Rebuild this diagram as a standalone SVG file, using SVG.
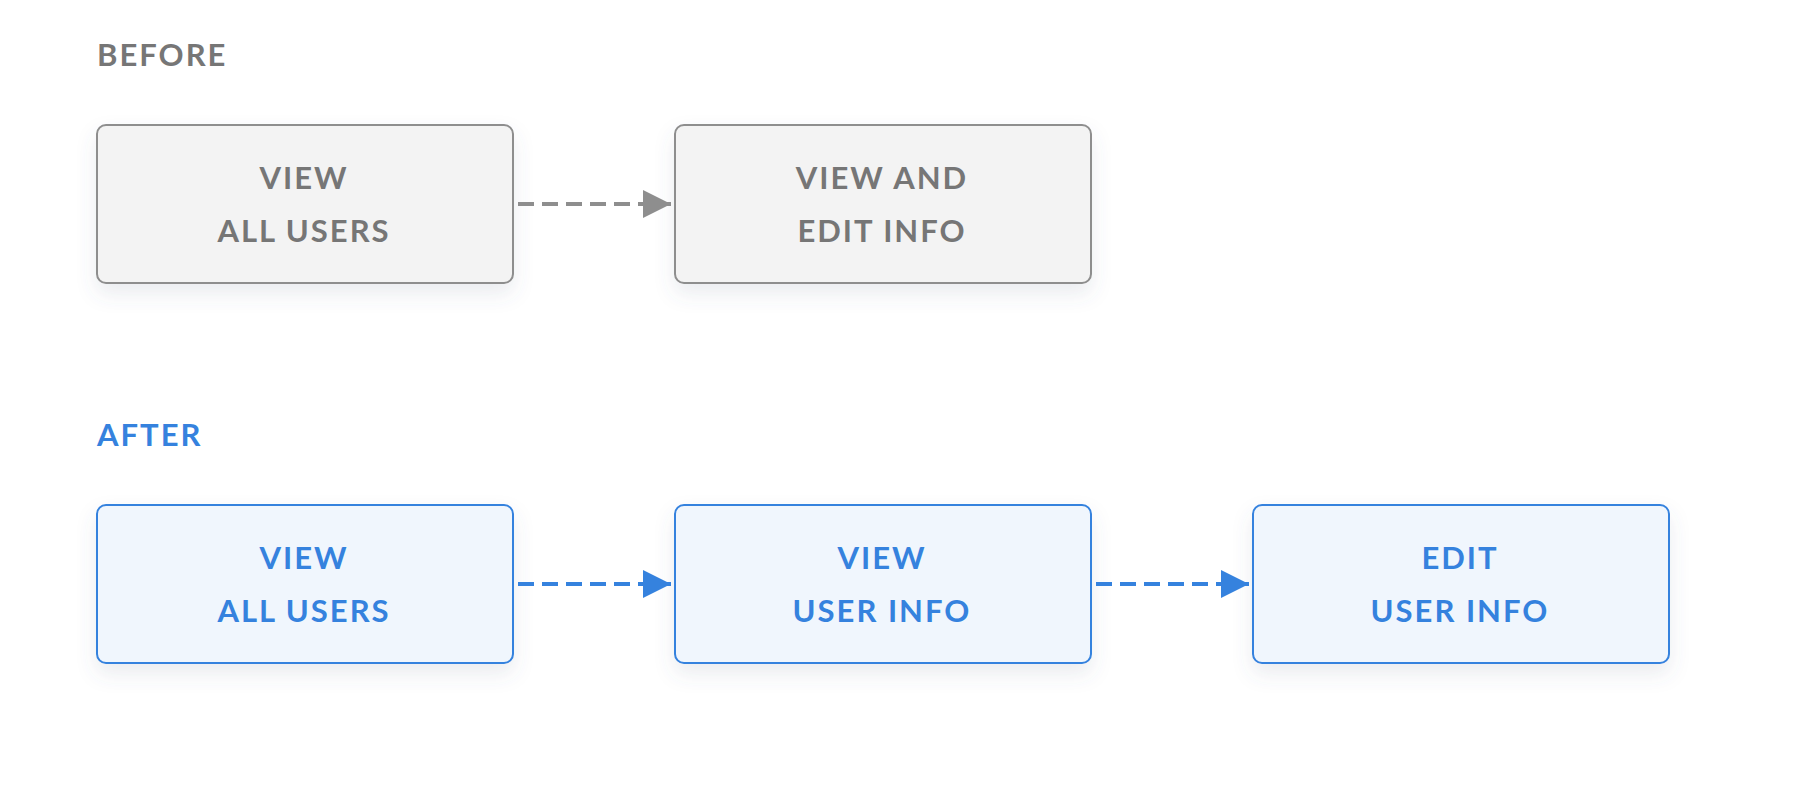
<svg xmlns="http://www.w3.org/2000/svg" width="1798" height="798" viewBox="0 0 1798 798">
  <defs>
    <filter id="shadow" x="-20%" y="-20%" width="140%" height="160%">
      <feDropShadow dx="0" dy="10" stdDeviation="10" flood-color="#5a6a80" flood-opacity="0.12"/>
    </filter>
    <marker id="arrGray" markerWidth="28" markerHeight="28" viewBox="0 0 28 28" refX="28" refY="14" markerUnits="userSpaceOnUse" orient="auto">
      <path d="M0,0 L28,14 L0,28 Z" fill="#8e8e8e"/>
    </marker>
    <marker id="arrBlue" markerWidth="28" markerHeight="28" viewBox="0 0 28 28" refX="28" refY="14" markerUnits="userSpaceOnUse" orient="auto">
      <path d="M0,0 L28,14 L0,28 Z" fill="#3582de"/>
    </marker>
  </defs>
  <style>
    text { font-family: Lato, "Open Sans", sans-serif; font-weight: 700; font-size: 31px; letter-spacing: 2px; }
    .title-gray { fill: #767676; }
    .title-blue { fill: #3582de; }
    .box-gray { fill: #f3f3f3; stroke: #8e8e8e; stroke-width: 2; filter: url(#shadow); }
    .box-blue { fill: #f0f6fd; stroke: #3582de; stroke-width: 2; filter: url(#shadow); }
    .lbl-gray { fill: #767676; text-anchor: middle; }
    .lbl-blue { fill: #3582de; text-anchor: middle; }
    .conn-gray { stroke: #8e8e8e; stroke-width: 4; stroke-dasharray: 16 8; fill: none; }
    .conn-blue { stroke: #3582de; stroke-width: 4; stroke-dasharray: 16 8; fill: none; }
  </style>
  <rect width="1798" height="798" fill="#ffffff"/>

  <text id="title-before" class="title-gray" x="97" y="65.5">BEFORE</text>
  <text id="title-after" class="title-blue" x="97" y="446">AFTER</text>

  <g id="before-view-all-users">
    <rect class="box-gray" x="97" y="125" width="416" height="158" rx="9"/>
    <text class="lbl-gray" x="304" y="189">VIEW</text>
    <text class="lbl-gray" x="304" y="242">ALL USERS</text>
  </g>
  <g id="before-view-edit-info">
    <rect class="box-gray" x="675" y="125" width="416" height="158" rx="9"/>
    <text class="lbl-gray" x="882" y="189">VIEW AND</text>
    <text class="lbl-gray" x="882" y="242">EDIT INFO</text>
  </g>

  <g id="after-view-all-users">
    <rect class="box-blue" x="97" y="505" width="416" height="158" rx="9"/>
    <text class="lbl-blue" x="304" y="569">VIEW</text>
    <text class="lbl-blue" x="304" y="622">ALL USERS</text>
  </g>
  <g id="after-view-user-info">
    <rect class="box-blue" x="675" y="505" width="416" height="158" rx="9"/>
    <text class="lbl-blue" x="882" y="569">VIEW</text>
    <text class="lbl-blue" x="882" y="622">USER INFO</text>
  </g>
  <g id="after-edit-user-info">
    <rect class="box-blue" x="1253" y="505" width="416" height="158" rx="9"/>
    <text class="lbl-blue" x="1460" y="569">EDIT</text>
    <text class="lbl-blue" x="1460" y="622">USER INFO</text>
  </g>

  <g id="connectors">
    <line class="conn-gray" x1="518" y1="204" x2="671" y2="204" marker-end="url(#arrGray)"/>
    <line class="conn-blue" x1="518" y1="584" x2="671" y2="584" marker-end="url(#arrBlue)"/>
    <line class="conn-blue" x1="1096" y1="584" x2="1249" y2="584" marker-end="url(#arrBlue)"/>
  </g>
</svg>
